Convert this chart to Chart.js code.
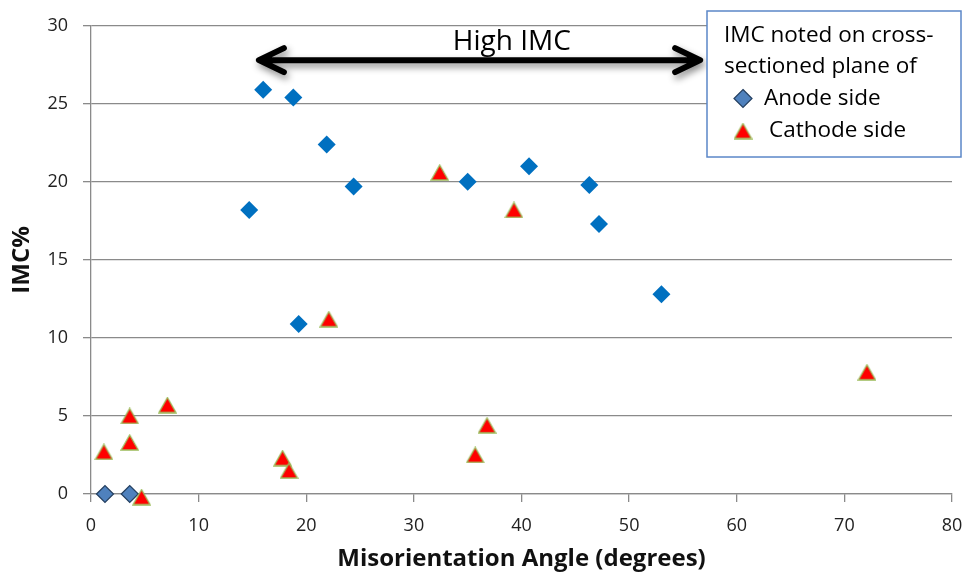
<!DOCTYPE html>
<html>
<head>
<meta charset="utf-8">
<script src="https://cdn.jsdelivr.net/npm/chart.js@4.4.1/dist/chart.umd.min.js"></script>
<style>
  html, body { margin: 0; background: #fff; }
</style>
</head>
<body>
<canvas id="imcChart" width="966" height="575"></canvas>
<script>
// data
const anodeAngle = [16.0, 18.8, 21.9, 24.4, 14.7, 19.3, 35.0, 40.7, 46.3, 47.2, 53.0, 1.3, 3.6];
const anodeImc   = [25.9, 25.4, 22.4, 19.7, 18.2, 10.9, 20.0, 21.0, 19.8, 17.3, 12.8, 0, 0];
const cathodeAngle = [1.2, 3.6, 3.6, 4.7, 7.1, 17.8, 18.4, 22.1, 32.4, 35.7, 36.8, 39.3, 72.1];
const cathodeImc   = [2.7, 5.0, 3.3, -0.2, 5.7, 2.3, 1.5, 11.2, 20.6, 2.5, 4.4, 18.2, 7.8];

const xTicks = [0, 10, 20, 30, 40, 50, 60, 70, 80];
const yTicks = [0, 5, 10, 15, 20, 25, 30];

// "High IMC" annotation, in data units
const arrowFrom = 15.6;
const arrowTo = 56.6;
const arrowLevel = 27.8;
const arrowLabel = 'High IMC';
const arrowLabelAt = 39.1;

const legendTitle = ['IMC noted on cross-', 'sectioned plane of'];
const seriesNames = ['Anode side', 'Cathode side'];

const FONT = '"Open Sans", "DejaVu Sans", sans-serif';
const GRID = '#8a8a8a';

const toPoints = (xs, ys) => xs.map((x, i) => ({ x: x, y: ys[i] }));

// excel-like triangle marker, centred on its bounding box
const makeTriangle = () => {
    const c = document.createElement('canvas');
    const w = 19, h = 17;
    c.width = w;
    c.height = h;
    const g = c.getContext('2d');
    g.beginPath();
    g.moveTo(w / 2, 1);
    g.lineTo(w - 1, h - 1);
    g.lineTo(1, h - 1);
    g.closePath();
    g.fillStyle = '#ff0000';
    g.fill();
    g.strokeStyle = '#9bbb59';
    g.lineWidth = 1.3;
    g.stroke();
    return c;
};
const triangle = makeTriangle();

const drawDiamond = (ctx, x, y, r, fill, stroke) => {
    ctx.beginPath();
    ctx.moveTo(x, y - r);
    ctx.lineTo(x + r, y);
    ctx.lineTo(x, y + r);
    ctx.lineTo(x - r, y);
    ctx.closePath();
    ctx.fillStyle = fill;
    ctx.fill();
    if (stroke) {
        ctx.strokeStyle = stroke;
        ctx.lineWidth = 1.2;
        ctx.stroke();
    }
};

const arrowPlugin = {
    id: 'highImcArrow',
    afterDatasetsDraw(chart) {
        const { ctx, scales: { x, y } } = chart;
        const x1 = x.getPixelForValue(arrowFrom);
        const x2 = x.getPixelForValue(arrowTo);
        const yy = y.getPixelForValue(arrowLevel);
        const head = 25, spread = 12;

        ctx.save();
        ctx.shadowColor = 'rgba(0,0,0,0.45)';
        ctx.shadowBlur = 7;
        ctx.shadowOffsetX = 2;
        ctx.shadowOffsetY = 4;
        ctx.strokeStyle = '#000';
        ctx.lineWidth = 6;
        ctx.lineCap = 'round';
        ctx.lineJoin = 'round';
        ctx.beginPath();
        ctx.moveTo(x1 + 2, yy);
        ctx.lineTo(x2 - 2, yy);
        ctx.moveTo(x1 + head, yy - spread);
        ctx.lineTo(x1, yy);
        ctx.lineTo(x1 + head, yy + spread);
        ctx.moveTo(x2 - head, yy - spread);
        ctx.lineTo(x2, yy);
        ctx.lineTo(x2 - head, yy + spread);
        ctx.stroke();
        ctx.restore();

        ctx.save();
        ctx.fillStyle = '#000';
        ctx.font = '28px ' + FONT;
        ctx.textAlign = 'center';
        ctx.textBaseline = 'alphabetic';
        ctx.fillText(arrowLabel, x.getPixelForValue(arrowLabelAt), yy - 10);
        ctx.restore();
    }
};

const legendPlugin = {
    id: 'boxLegend',
    afterDraw(chart) {
        const ctx = chart.ctx;
        const bx = 707, by = 11, bw = 254, bh = 146;
        ctx.save();
        ctx.fillStyle = '#fff';
        ctx.fillRect(bx, by, bw, bh);
        ctx.strokeStyle = '#5b87c8';
        ctx.lineWidth = 1.5;
        ctx.strokeRect(bx, by, bw, bh);

        ctx.fillStyle = '#000';
        ctx.font = '22.5px ' + FONT;
        ctx.textAlign = 'left';
        ctx.textBaseline = 'alphabetic';
        ctx.fillText(legendTitle[0], 724, 42);
        ctx.fillText(legendTitle[1], 724, 73);

        drawDiamond(ctx, 743, 98.5, 9, '#4f81bd', '#243f60');
        ctx.fillStyle = '#000';
        ctx.fillText(seriesNames[0], 764, 105);

        ctx.drawImage(triangle, 743 - triangle.width / 2, 131 - triangle.height / 2);
        ctx.fillStyle = '#000';
        ctx.fillText(seriesNames[1], 769, 137);
        ctx.restore();
    }
};

new Chart(document.getElementById('imcChart'), {
    type: 'scatter',
    data: {
        datasets: [
            {
                label: seriesNames[1],
                data: toPoints(cathodeAngle, cathodeImc),
                pointStyle: triangle,
                clip: false,
                order: 0
            },
            {
                label: seriesNames[0],
                data: toPoints(anodeAngle, anodeImc),
                pointStyle: 'rectRot',
                pointRadius: ctx => (ctx.raw && ctx.raw.y === 0 ? 8.5 : 9),
                backgroundColor: ctx => (ctx.raw && ctx.raw.y === 0 ? '#4f81bd' : '#0070c0'),
                borderColor: ctx => (ctx.raw && ctx.raw.y === 0 ? '#243f60' : '#0070c0'),
                borderWidth: ctx => (ctx.raw && ctx.raw.y === 0 ? 1.2 : 0),
                clip: false,
                order: 1
            }
        ]
    },
    options: {
        responsive: false,
        animation: false,
        events: [],
        layout: { padding: { top: 25, right: 14, left: 0, bottom: 0 } },
        plugins: {
            legend: { display: false },
            tooltip: { enabled: false }
        },
        scales: {
            x: {
                type: 'linear',
                min: xTicks[0],
                max: xTicks[xTicks.length - 1],
                afterBuildTicks: s => { s.ticks = xTicks.map(v => ({ value: v })); },
                afterFit: s => {
                    s.height = 81;
                    s.paddingLeft = 0;
                    s.paddingRight = 0;
                },
                ticks: {
                    color: '#222',
                    font: { family: FONT, size: 18 },
                    padding: 13,
                    maxRotation: 0
                },
                grid: {
                    drawOnChartArea: false,
                    drawTicks: true,
                    tickLength: 8,
                    color: GRID,
                    lineWidth: 1.3
                },
                border: { color: GRID, width: 1.3 },
                title: {
                    display: true,
                    text: 'Misorientation Angle (degrees)',
                    color: '#111',
                    font: { family: FONT, size: 24, weight: 'bold' },
                    padding: { top: 0, bottom: 1 }
                }
            },
            y: {
                min: yTicks[0],
                max: yTicks[yTicks.length - 1],
                afterBuildTicks: s => { s.ticks = yTicks.map(v => ({ value: v })); },
                afterFit: s => { s.width = 91; },
                ticks: {
                    color: '#222',
                    font: { family: FONT, size: 18 },
                    padding: 15
                },
                grid: {
                    drawTicks: true,
                    tickLength: 8,
                    color: GRID,
                    lineWidth: 1.3
                },
                border: { color: GRID, width: 1.3 },
                title: {
                    display: true,
                    text: 'IMC%',
                    color: '#111',
                    font: { family: FONT, size: 24, weight: 'bold' },
                    padding: { top: 8, bottom: 0 }
                }
            }
        }
    },
    plugins: [arrowPlugin, legendPlugin]
});
</script>
</body>
</html>
